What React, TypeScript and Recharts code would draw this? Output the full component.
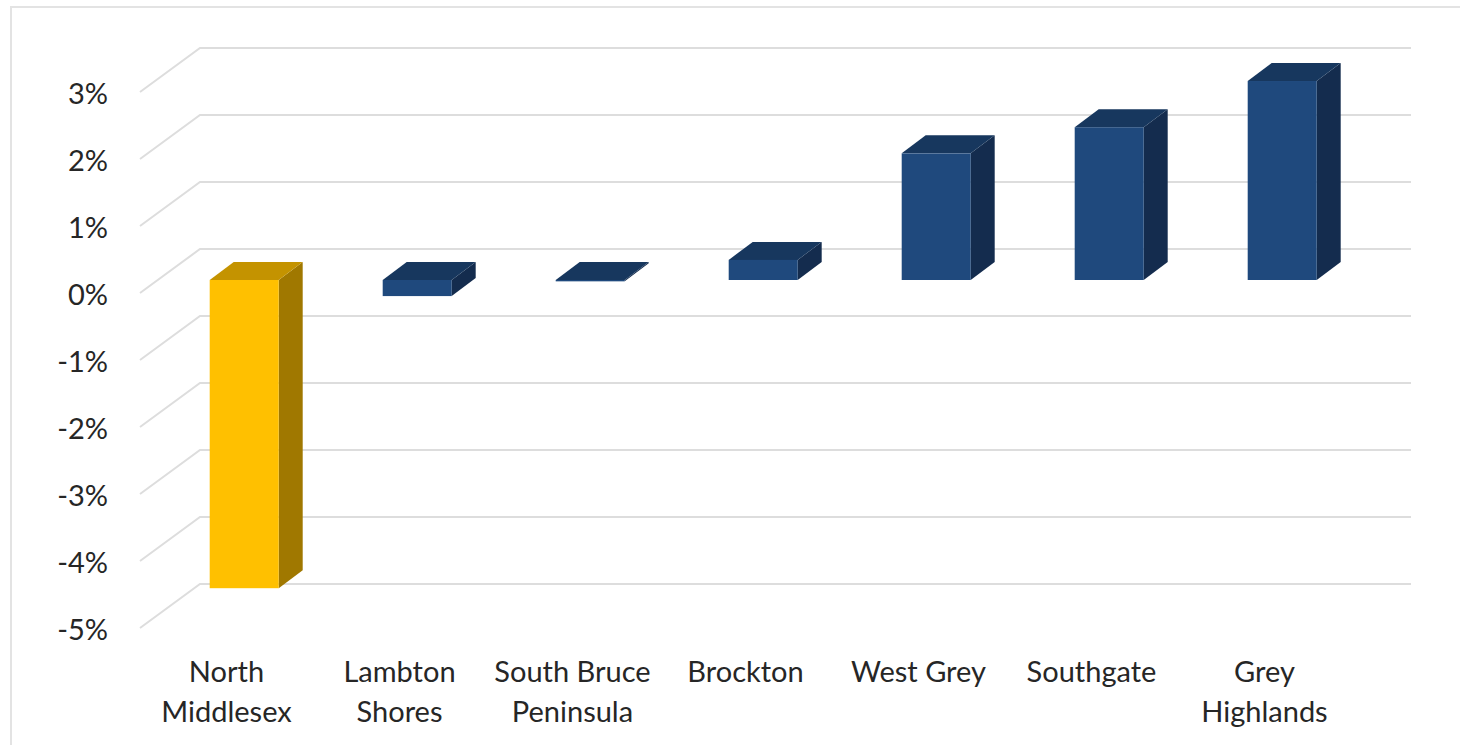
import { BarChart, Bar, XAxis, YAxis, CartesianGrid } from 'recharts'

const CATEGORIES = [
  'North Middlesex',
  'Lambton Shores',
  'South Bruce Peninsula',
  'Brockton',
  'West Grey',
  'Southgate',
  'Grey Highlands',
]
// how each category label wraps under the floor
const LABEL_LINES = [
  ['North', 'Middlesex'],
  ['Lambton', 'Shores'],
  ['South Bruce', 'Peninsula'],
  ['Brockton'],
  ['West Grey'],
  ['Southgate'],
  ['Grey', 'Highlands'],
]
const CHANGE_PCT = [-4.6, -0.24, -0.02, 0.3, 1.89, 2.28, 2.97]
const Y_TICKS = [-5, -4, -3, -2, -1, 0, 1, 2, 3]
const HIGHLIGHT = 'North Middlesex'

const FONT = 'Lato, "Open Sans", sans-serif'
const TEXT = '#262626'
const GRID = '#DDDDDD'

// bars sit part way into the floor: offsets from the bar plane to the front edge and the back wall
const FRONT = { dx: -17.7, dy: 13 }
const BACK = { dx: 42.3, dy: -31 }
const DEPTH = { dx: 24, dy: 18 }

const GOLD = { front: '#FFC000', top: '#C49300', side: '#A07800' }
const NAVY = { front: '#1F497D', top: '#17375E', side: '#142C4E' }

const data = CATEGORIES.map((name, i) => ({ name, value: CHANGE_PCT[i] }))

function GridLine(props: any) {
  const { x1, x2, y1 } = props
  const pts = [
    [x1 + FRONT.dx, y1 + FRONT.dy],
    [x1 + BACK.dx, y1 + BACK.dy],
    [x2 + BACK.dx, y1 + BACK.dy],
  ]
  return (
    <polyline
      key={`grid-${y1}`}
      points={pts.map(p => p.join(',')).join(' ')}
      fill="none"
      stroke={GRID}
      strokeWidth={2}
    />
  )
}

function Bar3D(props: any) {
  const { x, y, width, height, payload } = props
  const top = Math.min(y, y + height)
  const h = Math.abs(height)
  const pal = payload.name === HIGHLIGHT ? GOLD : NAVY
  const r = x + width
  const side = `${r},${top} ${r + DEPTH.dx},${top - DEPTH.dy} ${r + DEPTH.dx},${top + h - DEPTH.dy} ${r},${top + h}`
  const lid = `${x},${top} ${x + DEPTH.dx},${top - DEPTH.dy} ${r + DEPTH.dx},${top - DEPTH.dy} ${r},${top}`
  return (
    <g>
      <polygon points={side} fill={pal.side} />
      <polygon points={lid} fill={pal.top} />
      <rect x={x} y={top} width={width} height={h} fill={pal.front} />
    </g>
  )
}

function YTick({ y, payload }: any) {
  return (
    <text
      x={108}
      y={y + FRONT.dy}
      textAnchor="end"
      dominantBaseline="central"
      fontFamily={FONT}
      fontSize={29}
      fill={TEXT}
    >
      {`${payload.value}%`}
    </text>
  )
}

function XTick({ x, payload, index }: any) {
  const lines = LABEL_LINES[index] ?? [payload.value]
  return (
    <text
      x={x + FRONT.dx}
      y={670}
      textAnchor="middle"
      dominantBaseline="central"
      fontFamily={FONT}
      fontSize={29}
      fill={TEXT}
    >
      {lines.map((ln, i) => (
        <tspan key={ln} x={x + FRONT.dx} dy={i === 0 ? 0 : 40}>
          {ln}
        </tspan>
      ))}
    </text>
  )
}

export default function App() {
  return (
    <div style={{ position: 'absolute', left: 0, top: 0, width: 1460, height: 745, background: '#fff', overflow: 'hidden' }}>
      <div
        style={{
          position: 'absolute',
          left: 10,
          top: 6,
          width: 1480,
          height: 780,
          border: '2px solid #E3E3E3',
        }}
      />
      <div style={{ position: 'absolute', left: 0, top: 0 }}>
        <BarChart
          width={1460}
          height={745}
          data={data}
          margin={{ top: 79, right: 91.3, bottom: 30, left: 37.7 }}
          barCategoryGap={0}
        >
          <CartesianGrid vertical={false} horizontal={(p: any) => <GridLine {...p} />} />
          <XAxis
            dataKey="name"
            interval={0}
            axisLine={false}
            tickLine={false}
            height={100}
            tick={<XTick />}
          />
          <YAxis
            domain={[-5, 3]}
            ticks={Y_TICKS}
            width={120}
            axisLine={false}
            tickLine={false}
            tick={<YTick />}
          />
          <Bar dataKey="value" barSize={69} shape={(p: any) => <Bar3D {...p} />} isAnimationActive={false} />
        </BarChart>
      </div>
    </div>
  )
}
